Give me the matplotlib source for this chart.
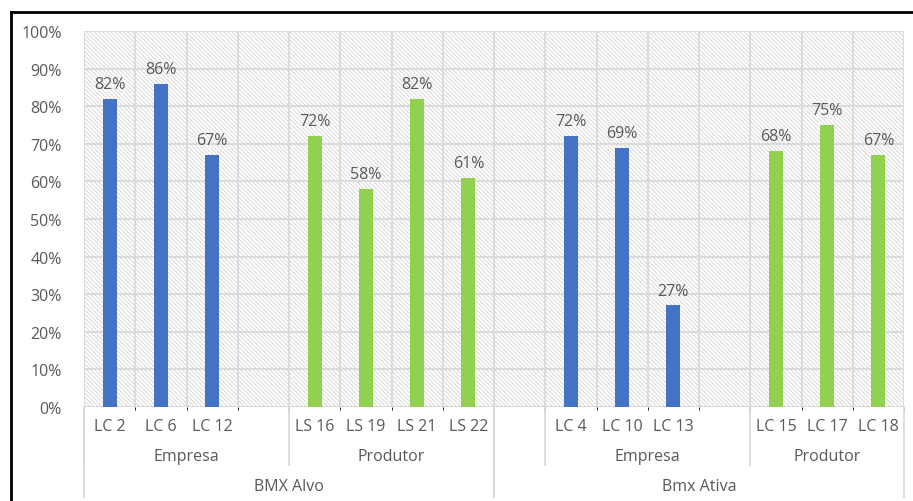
import matplotlib
matplotlib.use("Agg")
import matplotlib.pyplot as plt
from matplotlib.patches import Rectangle
from matplotlib.lines import Line2D
import numpy as np

plt.rcParams["font.family"] = ["Open Sans", "DejaVu Sans"]
plt.rcParams["hatch.linewidth"] = 0.6

# outer groups and their sub groups (blank slots kept as empty labels)
groups = ["BMX Alvo", "Bmx Ativa"]
subgroups = [["Empresa", "Produtor"], ["", "Empresa", "Produtor"]]

alvo_empresa_labels = ["LC 2", "LC 6", "LC 12", ""]
alvo_empresa_values = [82, 86, 67, np.nan]
alvo_produtor_labels = ["LS 16", "LS 19", "LS 21", "LS 22"]
alvo_produtor_values = [72, 58, 82, 61]
ativa_blank_labels = [""]
ativa_blank_values = [np.nan]
ativa_empresa_labels = ["LC 4", "LC 10", "LC 13", ""]
ativa_empresa_values = [72, 69, 27, np.nan]
ativa_produtor_labels = ["LC 15", "LC 17", "LC 18"]
ativa_produtor_values = [68, 75, 67]

sub_labels = [[alvo_empresa_labels, alvo_produtor_labels],
              [ativa_blank_labels, ativa_empresa_labels, ativa_produtor_labels]]
sub_values = [[alvo_empresa_values, alvo_produtor_values],
              [ativa_blank_values, ativa_empresa_values, ativa_produtor_values]]

blue = "#4472C4"
green = "#92D050"
text_col = "#595959"
grid_col = "#d9d9d9"
sub_colors = {"Empresa": blue, "Produtor": green, "": blue}
fs = 11.5

fig = plt.figure(figsize=(9.13, 5.02), dpi=100)
ax = fig.add_axes([84 / 913, 1 - 408 / 502, 820 / 913, 376 / 502])

# hatched background
ax.add_patch(Rectangle((0, 0), 1, 1, transform=ax.transAxes, facecolor="white",
                       edgecolor="#d4d4d4", hatch="\\" * 8, linewidth=0, zorder=0))

labels_all = []
pos = 0
sub_bounds = []   # (start, end, name)
group_bounds = []
for g, gname in enumerate(groups):
    gstart = pos
    for s, sname in enumerate(subgroups[g]):
        labs = sub_labels[g][s]
        vals = sub_values[g][s]
        x = np.arange(pos, pos + len(labs))
        ax.bar(x, vals, width=0.27, color=sub_colors[sname], zorder=3)
        for xi, v in zip(x, vals):
            if not np.isnan(v):
                ax.annotate(f"{v:.0f}%", (xi, v), xytext=(0, 5), textcoords="offset points",
                            ha="center", va="bottom", fontsize=fs, color=text_col, zorder=4)
        labels_all += labs
        sub_bounds.append((pos, pos + len(labs), sname))
        pos += len(labs)
    group_bounds.append((gstart, pos, gname))

n = len(labels_all)
ax.set_xlim(-0.5, n - 0.5)
ax.set_ylim(0, 100)
ax.set_yticks(np.arange(0, 101, 10))
ax.set_yticklabels([f"{t}%" for t in range(0, 101, 10)])
ax.set_xticks(np.arange(n))
ax.set_xticklabels(labels_all)
ax.set_xticks(np.arange(-0.5, n, 1), minor=True)
ax.tick_params(axis="both", length=0, colors=text_col, labelsize=fs)
ax.tick_params(axis="x", pad=8)
ax.tick_params(axis="y", pad=16)
ax.grid(axis="y", color=grid_col, linewidth=1.3, zorder=1)
ax.grid(axis="x", which="minor", color=grid_col, linewidth=1.3, zorder=1)
ax.grid(axis="x", which="major", visible=False)
for sp in ax.spines.values():
    sp.set_visible(False)
ax.axhline(0, color=grid_col, linewidth=1.5, zorder=2)

# multi-level category axis below the plot
trans = ax.get_xaxis_transform()
for start, end, name in sub_bounds:
    ax.text((start + end - 1) / 2, -0.13, name, transform=trans, ha="center", va="center",
            fontsize=fs, color=text_col)
    ax.add_line(Line2D([start - 0.5, start - 0.5], [0, -0.155], transform=trans,
                       color=grid_col, linewidth=1.3, clip_on=False))
for start, end, name in group_bounds:
    ax.text((start + end - 1) / 2, -0.21, name, transform=trans, ha="center", va="center",
            fontsize=fs, color=text_col)
    for b in (start - 0.5, end - 0.5):
        ax.add_line(Line2D([b, b], [0, -0.24], transform=trans,
                           color=grid_col, linewidth=1.3, clip_on=False))

# chart border (left and top visible)
fig.add_artist(Line2D([10.5 / 913, 10.5 / 913], [0, 1 - 13 / 502], color="black", linewidth=2))
fig.add_artist(Line2D([10.5 / 913, 1], [1 - 13 / 502, 1 - 13 / 502], color="black", linewidth=2))

fig.savefig("out.png", dpi=100)
